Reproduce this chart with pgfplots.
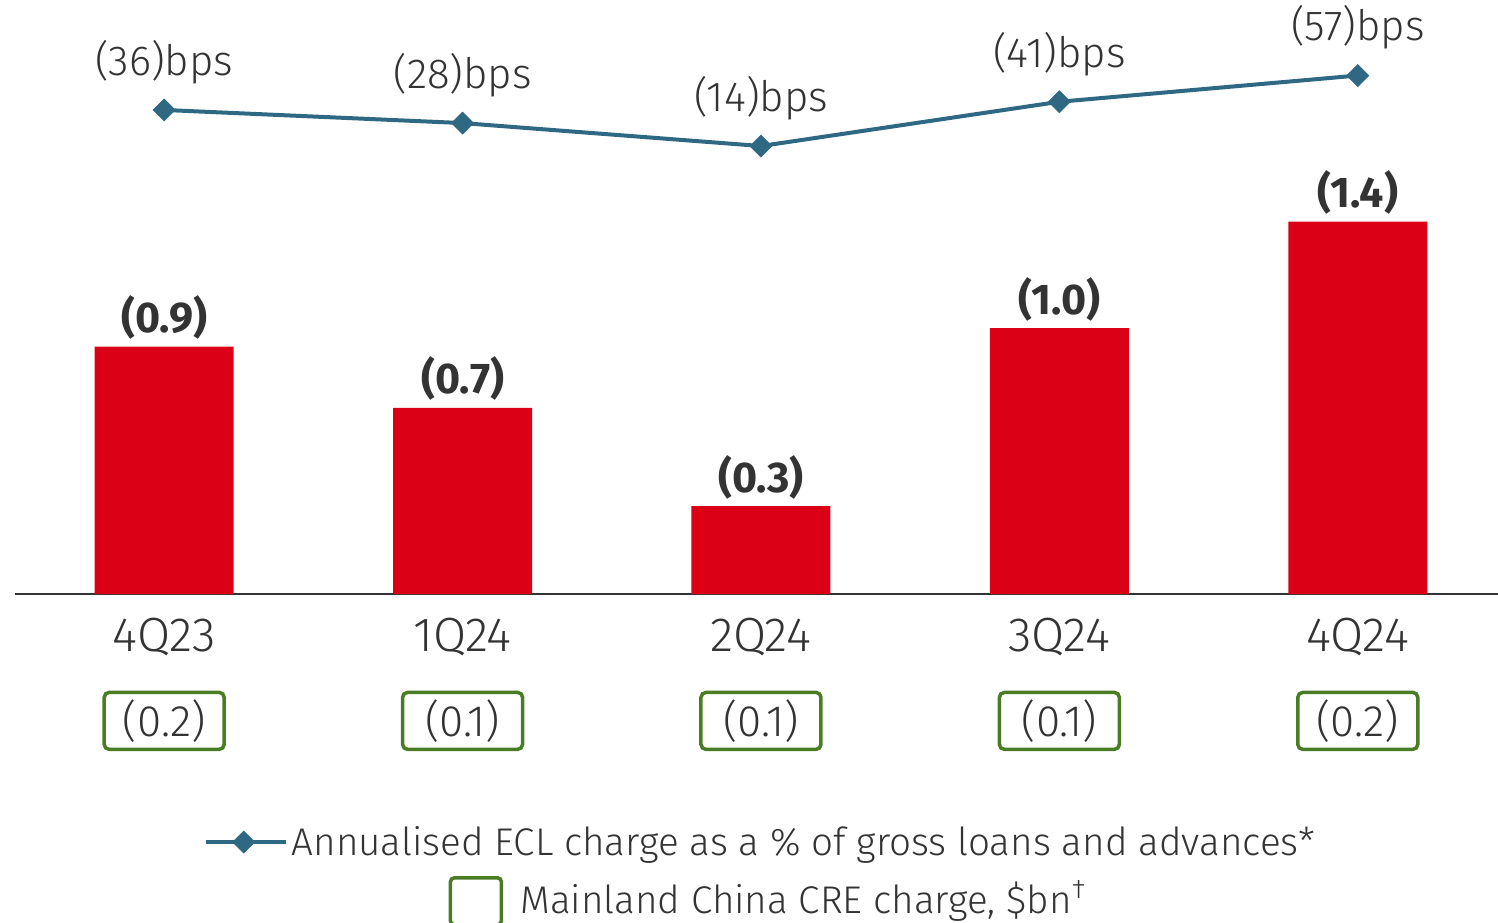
\documentclass[border=0pt]{standalone}
\usepackage{fontspec}
\IfFontExistsTF{Fira Sans Light}{\setmainfont{Fira Sans}[UprightFont=* Light, BoldFont=* Bold]}{\setmainfont{Fira Sans}}
\usepackage{pgfplots}
\pgfplotsset{compat=1.18}
\definecolor{barred}{RGB}{219,0,21}
\definecolor{linecol}{RGB}{46,104,130}
\definecolor{boxgreen}{RGB}{74,124,36}
\definecolor{textgray}{RGB}{51,51,51}
\newcommand{\lbl}{\fontsize{21}{24}\selectfont}
\newcommand{\tck}{\fontsize{24}{28}\selectfont}
\newcommand{\leg}{\fontsize{19.3}{23}\selectfont}
\begin{document}
\begin{tikzpicture}
\useasboundingbox (0,0) rectangle (749pt,461pt);
% bars, quarter labels and the boxed CRE values
\begin{axis}[
  at={(7.5pt,164pt)}, anchor=south west,
  scale only axis, width=741.5pt, height=212.8pt,
  xmin=-0.5, xmax=4.47, ymin=0, ymax=1.6,
  axis x line=bottom, hide y axis,
  axis line style={-, draw=textgray, line width=1pt},
  xtick={0,1,2,3,4},
  xticklabels={4Q23,1Q24,2Q24,3Q24,4Q24},
  major tick length=0pt,
  xticklabel style={font=\tck, text=textgray, yshift=-8.5pt},
  clip=false,
  legend style={at={(0.5088,-0.722)}, anchor=center, draw=none, fill=none,
    font=\leg, text=textgray},
]
\addplot[ybar, bar width=69.5pt, fill=barred, draw=none, forget plot,
  nodes near coords, point meta=explicit symbolic,
  nodes near coords style={font=\fontsize{21.5}{24}\selectfont\bfseries, text=textgray, anchor=center, yshift=14.5pt}]
  coordinates {(0,0.93)[(0.9)] (1,0.70)[(0.7)] (2,0.33)[(0.3)] (3,1.00)[(1.0)] (4,1.40)[(1.4)]};
\addplot[draw=none, mark=none,
  nodes near coords, point meta=explicit symbolic,
  nodes near coords style={font=\fontsize{22}{25}\selectfont, text=textgray, anchor=center,
    draw=boxgreen, line width=1.75pt, rounded corners=2.5pt,
    minimum width=60pt, minimum height=28.5pt, inner sep=0pt},
  legend image code/.code={
    \draw[boxgreen, line width=1.75pt, rounded corners=2pt] (0pt,-13pt) rectangle (25.5pt,10.5pt);
    \path (0pt,0pt) -- (33pt,0pt);}]
  coordinates {(0,-0.477)[(0.2)] (1,-0.477)[(0.1)] (2,-0.477)[(0.1)] (3,-0.477)[(0.1)] (4,-0.477)[(0.2)]};
\addlegendentry{Mainland China CRE charge, \$bn\textsuperscript{\textdagger}}
\end{axis}
% annualised ECL charge line
\begin{axis}[
  at={(7.5pt,376.5pt)}, anchor=south west,
  scale only axis, width=741.5pt, height=49.2pt,
  xmin=-0.5, xmax=4.47, ymin=0, ymax=60,
  hide axis, clip=false,
  legend style={at={(0.5034,-6.84)}, anchor=center, draw=none, fill=none,
    font=\leg, text=textgray},
  legend image code/.code={
    \draw[mark repeat=2, mark phase=2, #1] plot coordinates {(0pt,0pt) (19pt,0pt) (38pt,0pt)};
    \path (0pt,0pt) -- (40pt,0pt);},
]
\addplot[linecol, line width=2pt, mark=square*, mark size=3.9pt,
  mark options={solid, rotate=45, line width=0.3pt, fill=linecol},
  nodes near coords, point meta=explicit symbolic,
  nodes near coords style={font=\lbl, text=textgray, anchor=center, yshift=24pt}]
  coordinates {(0,36)[(36)bps] (1,28)[(28)bps] (2,14)[(14)bps] (3,41)[(41)bps] (4,57)[(57)bps]};
\addlegendentry{Annualised ECL charge as a \% of gross loans and advances*}
\end{axis}
\end{tikzpicture}
\end{document}
